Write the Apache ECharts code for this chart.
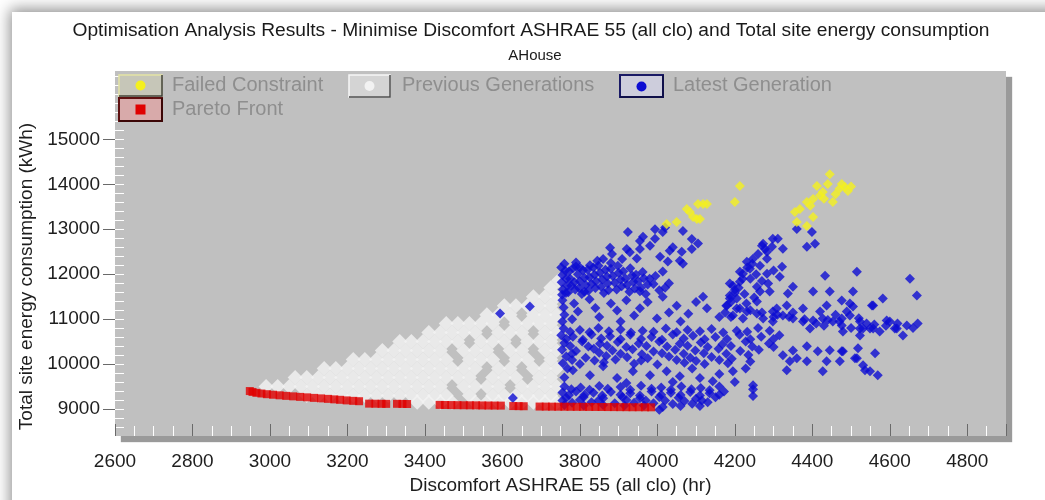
<!DOCTYPE html>
<html>
<head>
<meta charset="utf-8">
<script src="https://cdn.jsdelivr.net/npm/echarts@6/dist/echarts.min.js"></script>
<style>html,body{margin:0;padding:0;background:#fff}#chart{width:1045px;height:500px}</style>
</head>
<body>
<div id="chart"></div>
<script>
const titleText = 'Optimisation Analysis Results - Minimise Discomfort ASHRAE 55 (all clo) and Total site energy consumption';
const subtitleText = 'AHouse';
const xAxisName = 'Discomfort ASHRAE 55 (all clo) (hr)';
const yAxisName = 'Total site energy consumption (kWh)';
const seriesNames = ['Failed Constraint', 'Previous Generations', 'Latest Generation', 'Pareto Front'];
const yTickLabels = [9000, 10000, 11000, 12000, 13000, 14000, 15000];
const yMinorTicks = [8600, 8800, 9000, 9200, 9400, 9600, 9800, 10000, 10200, 10400, 10600, 10800, 11000, 11200, 11400, 11600, 11800, 12000, 12200, 12400, 12600, 12800, 13000, 13200, 13400, 13600, 13800, 14000, 14200, 14400, 14600, 14800, 15000, 15200, 15400, 15600, 15800, 16000, 16200, 16400];

const previousGenerations = [
[3380,9150],[3410,9150],[3440,9150],[3470,9150],[3530,9150],[3560,9150],[3590,9150],[3620,9150],[3650,9150],[3680,9150],[3710,9150],[3740,9150],
[3095,9300],[3125,9300],[3155,9300],[3185,9300],[3215,9300],[3245,9300],[3275,9300],[3305,9300],[3335,9300],[3365,9300],[3395,9300],[3425,9300],[3455,9300],[3515,9300],[3575,9300],[3605,9300],[3635,9300],[3665,9300],[3695,9300],[3725,9300],
[2990,9500],[3020,9500],[3050,9500],[3080,9500],[3110,9500],[3140,9500],[3170,9500],[3200,9500],[3230,9500],[3260,9500],[3290,9500],[3320,9500],[3350,9500],[3380,9500],[3410,9500],[3440,9500],[3500,9500],[3530,9500],[3560,9500],[3590,9500],[3650,9500],[3680,9500],[3710,9500],[3740,9500],
[3065,9700],[3095,9700],[3125,9700],[3155,9700],[3185,9700],[3215,9700],[3245,9700],[3275,9700],[3305,9700],[3335,9700],[3365,9700],[3395,9700],[3425,9700],[3455,9700],[3485,9700],[3515,9700],[3575,9700],[3605,9700],[3635,9700],[3695,9700],[3725,9700],
[3140,9900],[3170,9900],[3200,9900],[3230,9900],[3260,9900],[3290,9900],[3320,9900],[3350,9900],[3380,9900],[3410,9900],[3440,9900],[3470,9900],[3500,9900],[3530,9900],[3590,9900],[3620,9900],[3680,9900],[3710,9900],[3740,9900],
[3215,10100],[3245,10100],[3275,10100],[3305,10100],[3335,10100],[3365,10100],[3395,10100],[3425,10100],[3455,10100],[3515,10100],[3545,10100],[3575,10100],[3635,10100],[3665,10100],[3725,10100],
[3290,10300],[3320,10300],[3350,10300],[3380,10300],[3410,10300],[3440,10300],[3500,10300],[3530,10300],[3560,10300],[3620,10300],[3650,10300],[3710,10300],[3740,10300],
[3335,10500],[3365,10500],[3395,10500],[3425,10500],[3455,10500],[3485,10500],[3545,10500],[3575,10500],[3605,10500],[3665,10500],[3695,10500],[3725,10500],
[3410,10700],[3440,10700],[3470,10700],[3500,10700],[3530,10700],[3590,10700],[3620,10700],[3650,10700],[3710,10700],[3740,10700],
[3455,10900],[3485,10900],[3515,10900],[3545,10900],[3575,10900],[3635,10900],[3665,10900],[3695,10900],[3725,10900],
[3560,11100],[3590,11100],[3620,11100],[3680,11100],[3710,11100],[3740,11100],
[3605,11300],[3635,11300],[3665,11300],[3695,11300],[3725,11300],
[3680,11500],[3710,11500],[3740,11500],
[3725,11700],[3745,11860]
];

const latestGeneration = [
[3800,12150],[3826,12200],[3860,12340],[3878,12590],[3883,12450],[3909,12340],[3921,12560],[3924,12940],[3929,12490],[3947,12350],[3955,12740],[3963,12830],[3981,12630],[3994,12790],[3994,13000],[4007,12390],[4014,12940],[4020,13040],[4027,12280],[4032,12520],[4040,12600],[4063,12500],[4066,12960],[4066,12230],[4089,12780],[4089,12560],[4105,12680],[4058,12300],[4014,12060],[3955,12560],[3880,12250],[3845,12300],
[3752,12150],[3755,11980],[3753,11820],[3756,11660],[3754,11540],[3772,12060],[3775,11900],[3778,11740],[3770,11600],[3790,12170],[3795,12000],[3800,11840],[3798,11690],[3805,11560],[3820,12100],[3825,11930],[3830,11780],[3822,11630],[3848,12190],[3852,12030],[3858,11880],[3855,11720],[3862,11580],[3880,12120],[3885,11960],[3890,11810],[3895,11660],[3912,12060],[3918,11900],[3922,11760],[3928,11610],[3945,11990],[3950,11840],[3958,11700],[3970,11560],[3980,11900],[3990,11780],[4005,11640],[4030,11800],
[3762,12080],[3765,11900],[3768,11740],[3764,11580],[3782,12130],[3786,11820],[3788,11660],[3808,12090],[3812,11920],[3815,11760],[3812,11610],[3835,12150],[3838,11990],[3842,11840],[3840,11690],[3866,12100],[3870,11950],[3872,11790],[3874,11640],[3898,12190],[3900,12030],[3905,11880],[3908,11730],[3930,12130],[3935,11970],[3938,11830],[3942,11680],[3962,12050],[3965,11910],[3975,11770],[3955,11620],[3995,11960],[4020,11700],[3760,12230],[3790,12260],
[3755,11420],[3758,11260],[3760,11100],[3755,10950],[3785,11350],[3795,11170],[3780,11000],[3825,11440],[3840,11250],[3850,11050],[3880,11350],[3896,11190],[3920,11420],[3940,11080],[3955,11240],[3975,11380],[3999,11015],[4014,11500],[4030,11150],[4050,11300],[4080,11120],[4118,11500],[4128,11240],[4160,11050],[4100,11380],[3905,10950],[4060,10950],
[3758,10790],[3800,10760],[3848,10800],[3905,10770],[3962,10740],[4022,10790],[4078,10760],[4140,10780],[4205,10740],[4260,10800],
[3752,10640],[3782,10610],[3830,10660],[3878,10620],[3930,10650],[3985,10600],[4040,10660],[4092,10630],[4150,10600],[4212,10650],[4268,10610],[4315,10640],
[3760,10470],[3806,10500],[3852,10450],[3898,10490],[3952,10460],[4005,10500],[4058,10450],[4112,10480],[4168,10440],[4228,10500],[4288,10460],
[3754,10320],[3790,10290],[3836,10340],[3884,10300],[3936,10330],[3990,10280],[4046,10320],[4098,10300],[4158,10340],[4214,10290],[4262,10320],
[3765,10170],[3815,10140],[3868,10180],[3922,10150],[3975,10130],[4030,10170],[4085,10140],[4140,10160],[4192,10120],
[3756,10020],[3800,10000],[3862,10040],[3940,10010],[4000,9990],[4070,10030],[4122,10000],[4182,10020],[4240,10060],
[3775,10720],[3825,10710],[3875,10730],[3932,10700],[3990,10720],[4050,10710],[4110,10730],[4170,10700],[4232,10720],[4290,10740],
[3765,10560],[3808,10540],[3855,10570],[3905,10550],[3958,10560],[4012,10540],[4068,10570],[4122,10550],[4180,10560],[4240,10550],[4300,10560],
[3775,10400],[3822,10390],[3870,10410],[3920,10380],[3972,10400],[4025,10390],[4078,10410],[4130,10380],[4190,10400],[4245,10390],
[3780,10230],[3850,10250],[3905,10230],[3960,10220],[4012,10240],[4068,10230],[4120,10240],[4178,10230],[4235,10200],
[3780,10090],[3838,10080],[3892,10100],[3958,10080],[4050,10090],[4100,10070],[4160,10090],
[3782,9860],[3826,9750],[3860,9950],[3896,9690],[3937,9840],[3981,9750],[4024,9840],[4058,9730],[4110,9690],[4143,9620],[4195,9840],[4247,9530],[3760,9700],[3768,9900],[4090,9900],[4160,9780],[4228,9900],[3920,9580],[4040,9600],
[3760,9500],[3802,9480],[3850,9510],[3905,9490],[3958,9520],[4010,9480],[4062,9500],[4112,9470],[4160,9500],
[3755,9370],[3790,9390],[3835,9360],[3880,9380],[3930,9350],[3985,9390],[4035,9360],[4085,9380],[4135,9350],[4172,9390],
[3765,9250],[3810,9270],[3860,9240],[3910,9260],[3955,9240],[4005,9270],[4055,9250],[4100,9230],[4150,9260],
[3780,9140],[3830,9150],[3890,9130],[3940,9140],[3990,9130],[4040,9110],[4090,9120],[4130,9150],
[3778,9440],[3825,9430],[3872,9450],[3930,9430],[3985,9450],[4035,9430],[4088,9440],[4135,9420],
[3772,9310],[3812,9320],[3858,9300],[3905,9320],[3955,9300],[4010,9320],[4060,9310],[4110,9300],[4160,9320],
[3755,9190],[3800,9200],[3848,9190],[3920,9200],[3970,9190],[4020,9190],[4070,9180],[4115,9190],
[3760,9090],[3810,9080],[3860,9090],[3915,9080],[3965,9080],[4060,9070],[4110,9070],
[4014,9044],[4005,8985],[4247,9290],[4247,9440],[4200,9600],
[4298,12786],[4270,12631],[4283,12343],[4231,12277],[4213,12055],[4195,11745],[4187,11458],[4213,11236],[4257,11391],[4290,11612],[4308,11236],[4311,12786],[4273,12675],[4296,12609],[4324,12565],[4283,12498],[4247,12343],[4239,12122],[4265,12188],[4322,12166],[4221,12011],[4283,12011],[4316,11945],[4213,11834],[4187,11790],[4257,11723],[4286,11790],[4350,11723],[4337,11568],[4187,11524],[4205,11458],[4265,11612],[4200,11650],[4225,11560],[4240,11900],[4178,11300],[4230,11350],
[4175,11150],[4190,11380],[4200,11580],[4210,11700],[4220,11900],[4232,12150],[4245,12230],[4260,12450],[4278,12560],[4190,11050],[4250,11480],[4270,11850],[4300,12080],[4255,12000],
[4360,13007],[4399,12940],[4386,12609],[4407,12675],
[4180,11302],[4205,11236],[4231,11170],[4257,11125],[4298,11170],[4324,11081],[4350,11015],[4376,10948],[4402,10970],[4427,11015],[4453,10948],[4476,10860],[4497,11081],[4523,10948],[4549,10793],[4574,10727],[4600,10948],[4618,10793],[4644,10860],[4672,10904],[4634,10638],[4557,11302],[4505,11280],[4437,11302],[4420,11170],[4376,11236],[4334,11302],[4298,10948],[4273,11015],[4221,11015],[4195,11081],[4479,10727],[4523,10793],[4394,10793],[4476,11015],[4489,11170],[4592,10970],[4613,10793],[4557,10793],[4531,10793],[4523,10638],[4350,11150],[4460,11100],
[4240,11200],[4270,11150],[4310,11100],[4340,11050],[4380,11000],[4410,10900],[4440,10980],[4470,10950],[4520,11020],[4540,10900],[4560,10880],[4590,10850],[4620,10900],[4660,10800],[4500,10800],[4430,10850],[4300,11050],
[4386,10395],[4414,10284],[4445,10306],[4476,10284],[4515,10129],[4531,9974],[4549,9841],[4569,9753],[4562,10240],[4518,10351],[4427,9841],[4342,10063],[4324,10196],[4360,10129],[4334,9863],[4386,10063],[4437,10063],[4471,10063],[4479,10284],[4510,10129],[4536,9863],[4300,10380],[4350,10300],
[4515,12055],[4652,11900],[4670,11524],[4433,11967],[4402,11612],[4445,11612],[4505,11612],[4476,11413],[4497,11347],[4582,11458],[4554,11302],
[3594,11125],[3671,11280],[3627,9243]
];

const failedConstraint = [
[4084,13384],[4102,13229],[4118,13561],[4213,13960],[4200,13605],[4355,13384],[4360,13163],[4386,13605],[4402,13672],[4412,13960],[4427,13827],[4445,14225],[4440,14004],[4453,13605],[4484,13938],[4476,14004],[4492,13849],[4386,13074],[4402,13273],[4368,13450],[4050,13163],[4076,13450],[4092,13273],[4110,13229],[4105,13561],[4128,13561],[4024,13118],[4420,13750],[4395,13520],[4460,13780],[4470,13900],[4500,13950],[4430,13680]
];

const paretoFront = [
[2948,9400],[2955,9380],[2965,9360],[2978,9345],[2992,9330],[3008,9318],[3025,9305],[3042,9293],[3060,9282],[3078,9270],[3096,9260],[3114,9248],[3132,9237],[3150,9226],[3166,9215],[3181,9205],[3198,9192],[3215,9182],[3230,9174],
[3256,9120],[3272,9118],[3288,9116],[3300,9115],
[3328,9116],[3342,9114],[3354,9112],
[3438,9092],[3452,9090],[3468,9088],[3484,9086],[3500,9084],[3516,9083],[3532,9082],[3548,9080],[3564,9078],[3580,9077],[3596,9076],
[3628,9066],[3642,9064],[3655,9062],
[3696,9055],[3712,9054],[3728,9053],[3744,9052],[3760,9051],[3776,9050],[3792,9049],[3808,9048],[3824,9047],[3840,9046],[3856,9045],[3872,9044],[3888,9043],[3904,9042],[3920,9041],[3936,9040],[3952,9040],[3968,9039],[3984,9038]
];

const FONT = 'Liberation Sans, Arial, sans-serif';
const COLORS = {failed: '#f4f01e', previous: '#f2f2f2', latest: '#0c0cd2', pareto: '#e00000'};
const chart = echarts.init(document.getElementById('chart'), null, {renderer: 'canvas'});

const legendCommon = {
  orient: 'horizontal', itemWidth: 43, itemHeight: 10, padding: 0, selectedMode: false, z: 10,
  itemStyle: {color: 'rgba(0,0,0,0)', borderColor: 'rgba(0,0,0,0)', borderWidth: 0},
  textStyle: {fontFamily: FONT, fontSize: 20, color: '#8e8e8e', padding: [0, 0, 0, 5]}
};

function legendBox(x, y, w, h, fill, light, dark, lw) {
  return [
    {type: 'rect', z: 8, silent: true, shape: {x: x, y: y, width: w, height: h}, style: {fill: fill, stroke: light, lineWidth: lw}},
    {type: 'polyline', z: 8, silent: true, shape: {points: [[x + w, y], [x + w, y + h], [x, y + h]]}, style: {fill: null, stroke: dark, lineWidth: lw}}
  ];
}

const option = {
  animation: false,
  backgroundColor: '#ffffff',
  title: [
    {text: titleText, left: 531, top: 21, padding: 0, textAlign: 'center', textStyle: {fontFamily: FONT, fontSize: 19.2, fontWeight: 'normal', color: '#1a1a1a'}},
    {text: subtitleText, left: 535, top: 48, padding: 0, textAlign: 'center', textStyle: {fontFamily: FONT, fontSize: 15, fontWeight: 'normal', color: '#1a1a1a'}}
  ],
  legend: [
    Object.assign({}, legendCommon, {left: 119, top: 75, data: [{name: seriesNames[0], icon: 'rect'}]}),
    Object.assign({}, legendCommon, {left: 349, top: 75, data: [{name: seriesNames[1], icon: 'rect'}]}),
    Object.assign({}, legendCommon, {left: 620, top: 75, data: [{name: seriesNames[2], icon: 'rect'}]}),
    Object.assign({}, legendCommon, {left: 119, top: 99, data: [{name: seriesNames[3], icon: 'rect'}]})
  ],
  graphic: [
    {type: 'rect', z: -10, silent: true, shape: {x: 12, y: 12, width: 1100, height: 600}, style: {fill: '#ffffff', shadowBlur: 14, shadowOffsetX: -2, shadowOffsetY: -3, shadowColor: 'rgba(0,0,0,0.45)'}}
  ].concat(
    legendBox(119, 75, 43, 21, '#c6c6b8', '#e4e4a4', '#3c3c3c', 1.5),
    legendBox(349, 75, 41, 22, '#d4d4d4', '#f6f6f6', '#4a4a4a', 1.5),
    legendBox(620, 75, 43, 22, '#cdcddc', '#1a1a66', '#10104a', 2),
    legendBox(119, 98, 43, 23, '#d8aaaa', '#5e1010', '#3c0606', 2),
    [
      {type: 'circle', z: 9, silent: true, shape: {cx: 140.5, cy: 85.5, r: 5}, style: {fill: COLORS.failed}},
      {type: 'circle', z: 9, silent: true, shape: {cx: 369.5, cy: 86, r: 5}, style: {fill: COLORS.previous}},
      {type: 'circle', z: 9, silent: true, shape: {cx: 641.5, cy: 86.5, r: 5}, style: {fill: COLORS.latest}},
      {type: 'rect', z: 9, silent: true, shape: {x: 135.5, y: 104.5, width: 10, height: 10}, style: {fill: COLORS.pareto}}
    ]
  ),
  grid: {
    left: 115, right: 39, top: 71, bottom: 61, show: true,
    backgroundColor: '#c0c0c0', borderWidth: 0,
    shadowColor: '#9a9a9a', shadowBlur: 1, shadowOffsetX: 6, shadowOffsetY: 6
  },
  xAxis: {
    type: 'value', min: 2600, max: 4900, interval: 200,
    splitLine: {show: false}, axisLine: {show: false},
    axisTick: {show: true, inside: true, length: 12, lineStyle: {color: '#6a6a6a', width: 1}},
    minorTick: {show: true, splitNumber: 4, length: 10, lineStyle: {color: '#ffffff', width: 1}},
    minorSplitLine: {show: false},
    axisLabel: {fontFamily: FONT, fontSize: 19, color: '#1e1e1e', margin: 16,
      formatter: function (v) { return v <= 4800 ? String(v) : ''; }},
    name: xAxisName, nameLocation: 'middle', nameGap: 40,
    nameTextStyle: {fontFamily: FONT, fontSize: 19, color: '#1e1e1e'}
  },
  yAxis: [
    {
      type: 'value', min: 8400, max: 16520, position: 'left',
      splitLine: {show: false}, axisLine: {show: false},
      axisTick: {show: true, length: 12, customValues: yTickLabels, lineStyle: {color: '#6a6a6a'}},
      axisLabel: {customValues: yTickLabels, fontFamily: FONT, fontSize: 19, color: '#1e1e1e', margin: 15,
        formatter: function (v) { return String(v); }},
      name: yAxisName, nameLocation: 'middle', nameGap: 74, nameRotate: 90,
      nameTextStyle: {fontFamily: FONT, fontSize: 19, color: '#1e1e1e', padding: [0, 46, 0, 0]}
    },
    {
      type: 'value', min: 8400, max: 16520, position: 'left',
      splitLine: {show: false}, axisLine: {show: false}, axisLabel: {show: false},
      axisTick: {show: true, inside: true, length: 9, customValues: yMinorTicks, lineStyle: {color: '#ffffff'}}
    }
  ],
  series: [
    {name: seriesNames[1], type: 'scatter', data: previousGenerations, symbol: 'diamond', symbolSize: 15,
      itemStyle: {color: COLORS.previous}, z: 2, silent: true},
    {name: seriesNames[2], type: 'scatter', data: latestGeneration, symbol: 'diamond', symbolSize: 10,
      itemStyle: {color: COLORS.latest}, z: 3, silent: true},
    {name: seriesNames[0], type: 'scatter', data: failedConstraint, symbol: 'diamond', symbolSize: 10,
      itemStyle: {color: COLORS.failed}, z: 4, silent: true},
    {name: seriesNames[3], type: 'scatter', data: paretoFront, symbol: 'rect', symbolSize: 8,
      itemStyle: {color: COLORS.pareto}, z: 5, silent: true}
  ]
};
chart.setOption(option);
</script>
</body>
</html>
